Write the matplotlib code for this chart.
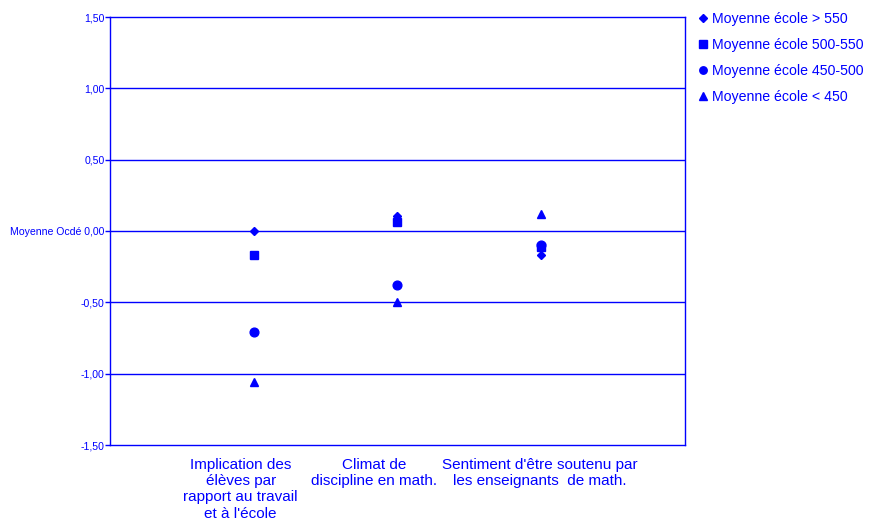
import matplotlib.pyplot as plt

plt.rcParams['font.family'] = ['Liberation Sans', 'DejaVu Sans']

# Données
categories = ["Implication des\nélèves par\nrapport au travail\net à l'école",
              "Climat de\ndiscipline en math.",
              "Sentiment d'être soutenu par\nles enseignants  de math."]
groupes = ["Moyenne école > 550", "Moyenne école 500-550",
           "Moyenne école 450-500", "Moyenne école < 450"]
sup_550 = [0.00, 0.105, -0.17]
ecole_500_550 = [-0.17, 0.065, -0.115]
ecole_450_500 = [-0.71, -0.38, -0.095]
inf_450 = [-1.06, -0.495, 0.12]
yticks = [-1.5, -1.0, -0.5, 0.0, 0.5, 1.0, 1.5]
ytick_labels = ["-1,50", "-1,00", "-0,50", "Moyenne Ocdé 0,00", "0,50", "1,00", "1,50"]

blue = "#0000FF"
x = [1, 2, 3]

fig = plt.figure(figsize=(8.87, 5.32), dpi=100)
ax = fig.add_axes([0.124, 0.1635, 0.648, 0.8045])

series = [sup_550, ecole_500_550, ecole_450_500, inf_450]
markers = ["D", "s", "o", "^"]
sizes = [4.5, 6, 6.3, 6.3]
for vals, m, s, lab in zip(series, markers, sizes, groupes):
    ax.plot(x, vals, linestyle="none", marker=m, markersize=s, color=blue, label=lab)

ax.set_xlim(0, 4)
ax.set_ylim(-1.5, 1.5)
ax.set_yticks(yticks)
ax.set_yticklabels(ytick_labels)
for y in [-1.0, -0.5, 0.0, 0.5, 1.0]:
    ax.axhline(y, color=blue, lw=1, zorder=0)

ax.set_xticks([0.91, 1.84, 2.99])
ax.set_xticklabels(categories, fontsize=11, color=blue, linespacing=1.22)
ax.tick_params(axis="x", length=0, pad=9)
ax.tick_params(axis="y", colors=blue, labelsize=7.6, length=3.5, width=1,
               direction="out", pad=0.5)
for sp in ax.spines.values():
    sp.set_color(blue)
    sp.set_linewidth(1)

fig.legend(loc="upper left", bbox_to_anchor=(0.777, 0.997), frameon=False,
           fontsize=10.2, labelcolor=blue, handlelength=0.6, handletextpad=0.3,
           labelspacing=0.86, borderpad=0.2, markerscale=0.85)

fig.savefig("out.png", dpi=100)
